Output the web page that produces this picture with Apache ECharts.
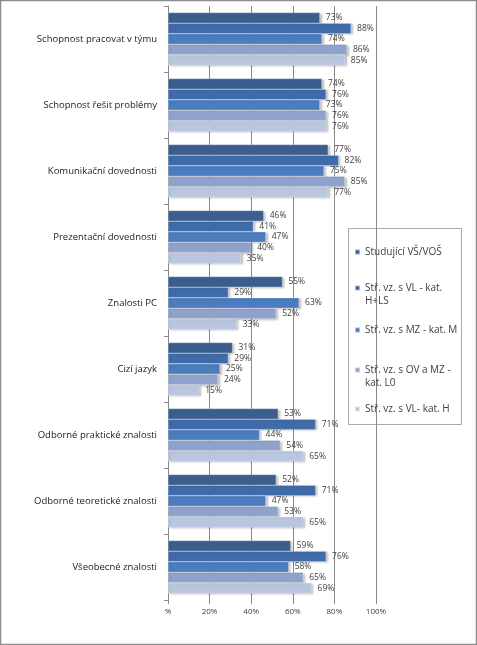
<!DOCTYPE html>
<html><head><meta charset="utf-8">
<script src="https://cdn.jsdelivr.net/npm/echarts@6/dist/echarts.min.js"></script>
<style>html,body{margin:0;padding:0;background:#fff}#c{width:477px;height:645px}</style>
</head><body><div id="c"></div>
<script>
var categories = ["Schopnost pracovat v týmu","Schopnost řešit problémy","Komunikační dovednosti","Prezentační dovednosti","Znalosti PC","Cizí jazyk","Odborné praktické znalosti","Odborné teoretické znalosti","Všeobecné znalosti"];
var seriesNames = ["Studující VŠ/VOŠ","Stř. vz. s VL - kat. H+LS","Stř. vz. s MZ - kat. M","Stř. vz. s OV a MZ - kat. L0","Stř. vz. s VL- kat. H"];
var legendLabels = ["Studující VŠ/VOŠ","Stř. vz. s VL - kat.\nH+LS","Stř. vz. s MZ - kat. M","Stř. vz. s OV a MZ -\nkat. L0","Stř. vz. s VL- kat. H"];
var s1 = [73,74,77,46,55,31,53,52,59];
var s2 = [88,76,82,41,29,29,71,71,76];
var s3 = [74,73,75,47,63,25,44,47,58];
var s4 = [86,76,85,40,52,24,54,53,65];
var s5 = [85,76,77,35,33,15,65,65,69];
var xTicks = ["%","20%","40%","60%","80%","100%"];
var colors = ["#3B5E8E","#3F6BA9","#4A7CBE","#8EA2CD","#BAC5DF"];
var values = [s1,s2,s3,s4,s5];
var legendCenters = [252,288,330,370,409];

var chart = echarts.init(document.getElementById('c'), null, {renderer:'canvas'});
var font = "'Open Sans', 'Liberation Sans', Arial, sans-serif";
var series = values.map(function(v,i){
  return {
    name: seriesNames[i], type:'bar', data:v, barGap:'0%', barCategoryGap:'20%',
    itemStyle:{color:colors[i], borderColor:'rgba(255,255,255,0.5)', borderWidth:0.5,
      shadowColor:'rgba(0,0,0,0.25)', shadowBlur:2, shadowOffsetX:2, shadowOffsetY:1},
    label:{show:true, position:'right', distance:6, formatter:'{c}%', fontSize:8.5, color:'#404040', fontFamily:font},
    animation:false
  };
});
var legends = seriesNames.map(function(n,i){
  var two = legendLabels[i].indexOf('\n')>=0;
  return {
    show:true, orient:'vertical', left:354, top:legendCenters[i]-6.5, padding:0, data:[n],
    icon: two ? 'path://M0,0h5v5h-5zM0,18h0.01v0.01h-0.01z' : 'rect',
    itemWidth:5, itemHeight: two ? 18 : 5, itemGap:0,
    selectedMode:false,
    formatter:function(){return legendLabels[i];},
    textStyle:{fontSize:10, color:'#404040', fontFamily:font, lineHeight:13}
  };
});
chart.setOption({
  animation:false,
  color:colors,
  legend:legends,
  graphic:[
    {type:'rect', shape:{x:0.5,y:0.5,width:476,height:644}, style:{fill:'none', stroke:'#8c8c8c', lineWidth:1.5}, silent:true},
    {type:'rect', shape:{x:348.5,y:228.5,width:113,height:196}, style:{fill:'#fff', stroke:'#a9a9a9', lineWidth:1}, silent:true, z:-1}
  ],
  grid:{left:168, right:101, top:6, bottom:45},
  xAxis:{type:'value', min:0, max:100, interval:20,
    axisLine:{show:false}, axisTick:{show:true, length:4, lineStyle:{color:'#888'}},
    splitLine:{show:true, lineStyle:{color:'#8a8a8a', width:1}},
    axisLabel:{fontSize:8, color:'#404040', fontFamily:font, margin:8, formatter:function(v){return xTicks[Math.round(v/20)];}}
  },
  yAxis:{type:'category', data:categories, inverse:true,
    axisLine:{show:true, lineStyle:{color:'#888'}},
    axisTick:{show:true, length:4, lineStyle:{color:'#888'}},
    axisLabel:{fontSize:9.5, color:'#222', fontFamily:font, margin:11}
  },
  series:series
});
</script></body></html>
